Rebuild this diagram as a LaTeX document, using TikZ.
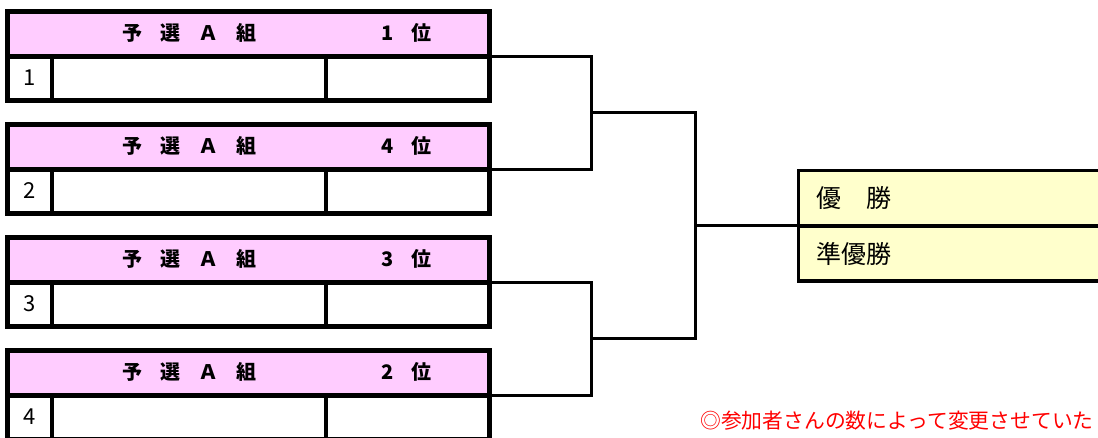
\documentclass[tikz,border=0pt]{standalone}
\usepackage{fontspec}
\setmainfont{Noto Sans CJK JP}
\definecolor{hdr}{HTML}{FFCCFF}
\definecolor{finfill}{HTML}{FFFFCC}
\definecolor{note}{HTML}{FF0000}
\tikzset{
  frame/.style={line width=5pt},
  inner/.style={line width=4pt},
  conn/.style={line width=3pt},
  hdrtext/.style={inner sep=0pt, font=\fontsize{20}{22}\selectfont\bfseries},
  numtext/.style={inner sep=0pt, font=\fontsize{22}{24}\selectfont},
  fintext/.style={inner sep=0pt, anchor=west, font=\fontsize{25}{27}\selectfont},
  notetext/.style={inner sep=0pt, anchor=west, text=note, font=\fontsize{20.8}{23}\selectfont},
  finbox/.style={draw, fill=finfill, line width=3.5pt, outer sep=0pt, inner sep=0pt,
    minimum width=330pt, minimum height=110.5pt, anchor=north west}
}
\newcommand{\cjkbox}[1]{\makebox[20pt]{#1}}
\begin{document}
\begin{tikzpicture}[x=1pt,y=-1pt]
\useasboundingbox (0,0) rectangle (1098,437);
\foreach \i/\num/\rank in {0/1/1,1/2/4,2/3/3,3/4/2} {
  \pgfmathsetmacro\t{11.5+113*\i}
  \pgfmathsetmacro\m{\t+44.75}
  \pgfmathsetmacro\b{\t+89.25}
  \fill[hdr] (7.5,\t) rectangle (489,\m);
  \draw[frame] (7.5,\t) rectangle (489,\b);
  \draw[frame] (7.5,\m) -- (489,\m);
  \draw[inner] (51.5,\m) -- (51.5,\b);
  \draw[inner] (326,\m) -- (326,\b);
  \node[hdrtext] (g\num) at (189.75,{\t+21.5})
    {\cjkbox{予}\hspace{18pt}\cjkbox{選}\hspace{18pt}\cjkbox{Ａ}\hspace{18pt}\cjkbox{組}};
  \node[hdrtext] (r\num) at (404.75,{\t+21.5})
    {\cjkbox{\rank}\hspace{13.5pt}\cjkbox{位}};
  \node[numtext] (n\num) at (29.5,{\t+66.5}) {\num};
  \coordinate (c\num) at (489,\m);
}
\coordinate (j1) at (591,112.75);
\coordinate (j2) at (591,338.75);
\coordinate (k) at (695.5,225.75);
\node[finbox] (fin) at (798.3,170.5) {};
\draw[conn] (c1) -| (j1) |- (c2);
\draw[conn] (c3) -| (j2) |- (c4);
\draw[conn] (j1) -| (k) |- (j2);
\draw[conn] (k) -- (fin.west);
\draw[line width=3.5pt] (fin.west) -- (fin.east);
\node[fintext] (w1) at (816,198) {優\hspace{1em}勝};
\node[fintext] (w2) at (816,253.5) {準優勝};
\node[notetext] (nt) at (700,421) {◎参加者さんの数によって変更させていた};
\end{tikzpicture}
\end{document}
